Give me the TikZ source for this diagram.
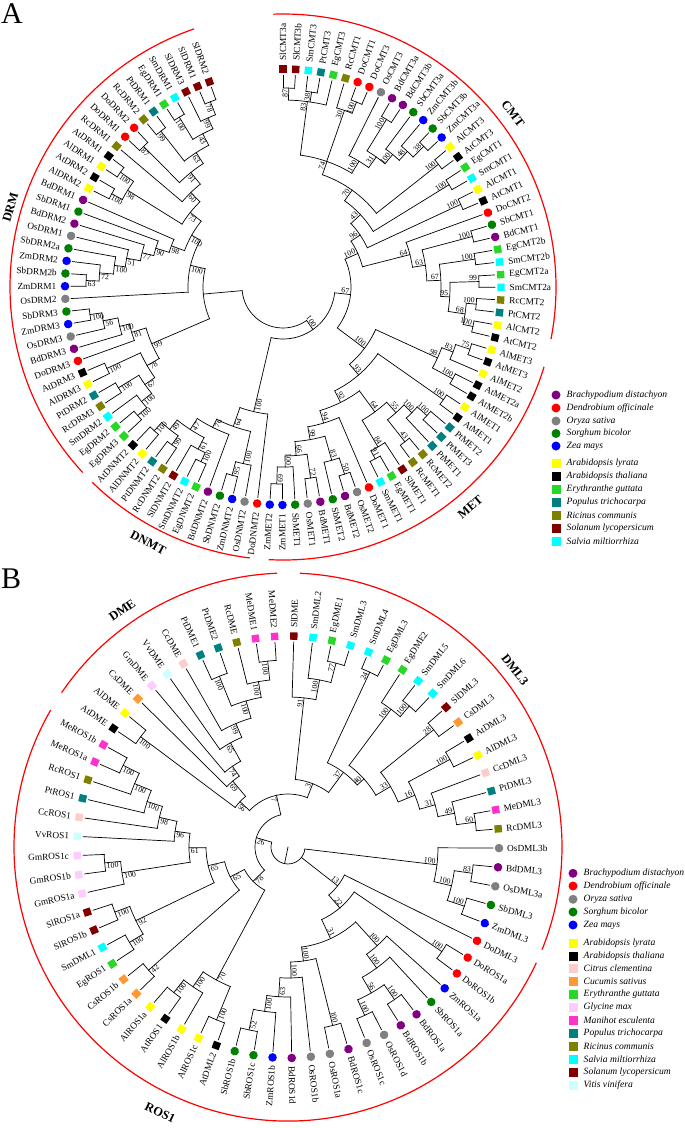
\documentclass[tikz,border=0pt]{standalone}
\usepackage{fontspec}
\setmainfont{Liberation Serif}
\usepackage{tikz}

\definecolor{cBd}{RGB}{128,0,128}
\definecolor{cDo}{RGB}{255,0,0}
\definecolor{cOs}{RGB}{128,128,128}
\definecolor{cSb}{RGB}{0,128,0}
\definecolor{cZm}{RGB}{0,0,255}
\definecolor{cAl}{RGB}{255,255,0}
\definecolor{cAt}{RGB}{0,0,0}
\definecolor{cEg}{RGB}{40,215,40}
\definecolor{cPt}{RGB}{0,128,128}
\definecolor{cRc}{RGB}{128,128,0}
\definecolor{cSl}{RGB}{128,0,0}
\definecolor{cSm}{RGB}{0,255,255}
\definecolor{cCc}{RGB}{255,204,204}
\definecolor{cCs}{RGB}{255,153,51}
\definecolor{cGm}{RGB}{255,204,255}
\definecolor{cMe}{RGB}{255,51,204}
\definecolor{cVv}{RGB}{204,255,255}

\tikzset{
  br/.style={line width=0.7pt, line cap=rect},
  mk/.style={draw=none, inner sep=0pt, outer sep=0pt},
  ci/.style={mk, circle, minimum size=8.6pt},
  sq/.style={mk, rectangle, minimum size=7.4pt},
  spBd/.style={ci, fill=cBd}, spDo/.style={ci, fill=cDo}, spOs/.style={ci, fill=cOs},
  spSb/.style={ci, fill=cSb}, spZm/.style={ci, fill=cZm},
  spAl/.style={sq, fill=cAl}, spAt/.style={sq, fill=cAt}, spEg/.style={sq, fill=cEg},
  spPt/.style={sq, fill=cPt}, spRc/.style={sq, fill=cRc}, spSl/.style={sq, fill=cSl},
  spSm/.style={sq, fill=cSm}, spCc/.style={sq, fill=cCc}, spCs/.style={sq, fill=cCs},
  spGm/.style={sq, fill=cGm}, spMe/.style={sq, fill=cMe}, spVv/.style={sq, fill=cVv},
  leaflab/.style={inner sep=1.5pt, font=\fontsize{9.3}{11}\selectfont},
  bs/.style={inner sep=0.6pt, font=\fontsize{7.8}{8}\selectfont},
  clab/.style={inner sep=0pt, font=\fontsize{12.5}{14}\selectfont\bfseries},
  grp/.style={red, line width=1.2pt},
  legtxt/.style={anchor=west, inner sep=1pt, font=\fontsize{9.6}{11}\selectfont\itshape},
}

% panel: centre x, centre y, first leaf angle, angle step, tip radius, marker radius
\newcommand\setpanel[6]{\def\pcx{#1}\def\pcy{#2}\def\pa{#3}\def\pd{#4}\def\rtip{#5}\def\rmk{#6}}
\newcommand\setlab[1]{\def\rlab{#1}}

% leaf: name, index, species
\newcommand\leaf[3]{%
  \pgfmathsetmacro\tha{\pa-\pd*#2}%
  \expandafter\xdef\csname ang@#1\endcsname{\tha}%
  \coordinate (#1) at ([shift={(\pcx,\pcy)}]\tha:\rtip);
  \node[sp#3, rotate=\tha] (m#1) at ([shift={(\pcx,\pcy)}]\tha:\rmk) {};
  \pgfmathtruncatemacro\lside{cos(\tha)>=0}%
  \ifnum\lside=1 
    \node[leaflab, anchor=west, rotate=\tha] (t#1) at ([shift={(\pcx,\pcy)}]\tha:\rlab) {#1};
  \else
    \node[leaflab, anchor=east, rotate=\tha+180] (t#1) at ([shift={(\pcx,\pcy)}]\tha:\rlab) {#1};
  \fi}

% clade: name, radius, children, bootstrap
\newcommand\clade[4]{%
  \gdef\cfirst{}%
  \foreach \ch in {#3}{%
    \ifx\cfirst\empty\xdef\cfirst{\csname ang@\ch\endcsname}\fi
    \xdef\clast{\csname ang@\ch\endcsname}}%
  \pgfmathsetmacro\thn{(\cfirst+\clast)/2}%
  \pgfmathsetmacro\rbs{#2-1}%
  \expandafter\xdef\csname ang@#1\endcsname{\thn}%
  \coordinate (#1) at ([shift={(\pcx,\pcy)}]\thn:#2);
  \draw[br] ([shift={(\pcx,\pcy)}]\cfirst:#2) arc[start angle=\cfirst, end angle=\clast, radius=#2pt];
  \foreach \ch in {#3}{%
    \edef\thc{\csname ang@\ch\endcsname}%
    \draw[br] ([shift={(\pcx,\pcy)}]\thc:#2) -- (\ch);}%
  \if\relax\detokenize{#4}\relax\else
    \pgfmathtruncatemacro\lside{cos(\thn)>=0}%
    \ifnum\lside=1 
      \node[bs, anchor=south east, rotate=\thn] (b#1) at ([shift={(\pcx,\pcy)}]\thn:\rbs) {#4};
    \else
      \node[bs, anchor=north west, rotate=\thn+180] (b#1) at ([shift={(\pcx,\pcy)}]\thn:\rbs) {#4};
    \fi
  \fi}

% legend entry: panel, x, y, species, text
\newcommand\legitem[5]{%
  \node[sp#4, minimum size=9pt] (lg#1#4) at (#2,-#3) {};
  \node[legtxt] (lt#1#4) at (#2+9.5,-#3) {#5};}

\begin{document}
\begin{tikzpicture}[x=1pt, y=1pt]
\useasboundingbox (0,0) rectangle (685,-1128);

%% ---------------- A ----------------
\node[anchor=base west, inner sep=0pt, font=\fontsize{30}{30}\selectfont] (pA) at (1,-23) {A};
\coordinate (ca) at (283,-287);
\setpanel{283}{-287}{90}{3.336}{212}{218}\setlab{225}

\leaf{SlCMT3a}{0}{Sl}\leaf{SlCMT3b}{1}{Sl}\leaf{SmCMT3}{2}{Sm}\leaf{PtCMT3}{3}{Pt}
\leaf{EgCMT3}{4}{Eg}\leaf{RcCMT1}{5}{Rc}\leaf{DoCMT1}{6}{Do}\leaf{DoCMT3}{7}{Do}
\leaf{OsCMT3}{8}{Os}\leaf{BdCMT3a}{9}{Bd}\leaf{BdCMT3b}{10}{Bd}\leaf{SbCMT3a}{11}{Sb}
\leaf{ZmCMT3b}{12}{Zm}\leaf{SbCMT3b}{13}{Sb}\leaf{ZmCMT3a}{14}{Zm}\leaf{AlCMT3}{15}{Al}
\leaf{AtCMT3}{16}{At}\leaf{EgCMT1}{17}{Eg}\leaf{SmCMT1}{18}{Sm}\leaf{AlCMT1}{19}{Al}
\leaf{AtCMT1}{20}{At}\leaf{DoCMT2}{21}{Do}\leaf{SbCMT1}{22}{Sb}\leaf{BdCMT1}{23}{Bd}
\leaf{EgCMT2b}{24}{Eg}\leaf{SmCMT2b}{25}{Sm}\leaf{EgCMT2a}{26}{Eg}\leaf{SmCMT2a}{27}{Sm}
\leaf{RcCMT2}{28}{Rc}\leaf{PtCMT2}{29}{Pt}\leaf{AlCMT2}{30}{Al}\leaf{AtCMT2}{31}{At}
\leaf{AlMET3}{32}{Al}\leaf{AtMET3}{33}{At}\leaf{AlMET2}{34}{Al}\leaf{AtMET2a}{35}{At}
\leaf{AtMET2b}{36}{At}\leaf{AlMET1}{37}{Al}\leaf{AtMET1}{38}{At}\leaf{PtMET2}{39}{Pt}
\leaf{PtMET3}{40}{Pt}\leaf{PtMET1}{41}{Pt}\leaf{RcMET2}{42}{Rc}\leaf{RcMET1}{43}{Rc}
\leaf{SlMET1}{44}{Sl}\leaf{EgMET1}{45}{Eg}\leaf{SmMET1}{46}{Sm}\leaf{DoMET1}{47}{Do}
\leaf{OsMET2}{48}{Os}\leaf{BdMET2}{49}{Bd}\leaf{SbMET2}{50}{Sb}\leaf{BdMET1}{51}{Bd}
\leaf{OsMET1}{52}{Os}\leaf{SbMET1}{53}{Sb}\leaf{ZmMET1}{54}{Zm}\leaf{ZmMET2}{55}{Zm}
\leaf{DoDNMT2}{56}{Do}\leaf{OsDNMT2}{57}{Os}\leaf{ZmDNMT2}{58}{Zm}\leaf{SbDNMT2}{59}{Sb}
\leaf{BdDNMT2}{60}{Bd}\leaf{EgDNMT2}{61}{Eg}\leaf{SmDNMT2}{62}{Sm}\leaf{SlDNMT2}{63}{Sl}
\leaf{RcDNMT2}{64}{Rc}\leaf{PtDNMT2}{65}{Pt}\leaf{AlDNMT2}{66}{Al}\leaf{AtDNMT2}{67}{At}
\leaf{EgDRM3}{68}{Eg}\leaf{EgDRM2}{69}{Eg}\leaf{SmDRM2}{70}{Sm}\leaf{RcDRM3}{71}{Rc}
\leaf{PtDRM2}{72}{Pt}\leaf{AlDRM3}{73}{Al}\leaf{AtDRM3}{74}{At}\leaf{DoDRM3}{75}{Do}
\leaf{BdDRM3}{76}{Bd}\leaf{OsDRM3}{77}{Os}\leaf{ZmDRM3}{78}{Zm}\leaf{SbDRM3}{79}{Sb}
\leaf{OsDRM2}{80}{Os}\leaf{ZmDRM1}{81}{Zm}\leaf{SbDRM2b}{82}{Sb}\leaf{ZmDRM2}{83}{Zm}
\leaf{SbDRM2a}{84}{Sb}\leaf{OsDRM1}{85}{Os}\leaf{BdDRM2}{86}{Bd}\leaf{SbDRM1}{87}{Sb}
\leaf{BdDRM1}{88}{Bd}\leaf{AlDRM2}{89}{Al}\leaf{AtDRM2}{90}{At}\leaf{AlDRM1}{91}{Al}
\leaf{AtDRM1}{92}{At}\leaf{RcDRM1}{93}{Rc}\leaf{DoDRM1}{94}{Do}\leaf{DoDRM2}{95}{Do}
\leaf{RcDRM2}{96}{Rc}\leaf{PtDRM1}{97}{Pt}\leaf{EgDRM1}{98}{Eg}\leaf{SmDRM1}{99}{Sm}
\leaf{SlDRM3}{100}{Sl}\leaf{SlDRM1}{101}{Sl}\leaf{SlDRM2}{102}{Sl}

% CMT
\clade{a-87}{199}{SlCMT3a,SlCMT3b}{87}
\clade{a-38a}{197}{SmCMT3,PtCMT3}{38}
\clade{a-83}{187}{a-87,a-38a,EgCMT3}{83}
\clade{a-doc}{199}{DoCMT1,DoCMT3}{100}
\clade{a-30}{187}{RcCMT1,a-doc}{30}
\clade{a-bdc}{197}{BdCMT3a,BdCMT3b}{100}
\clade{a-38b}{199}{SbCMT3b,ZmCMT3a}{38}
\clade{a-48}{184}{ZmCMT3b,a-38b}{48}
\clade{a-sbc}{172}{SbCMT3a,a-48}{100}
\clade{a-31}{160}{a-bdc,a-sbc}{31}
\clade{a-osc}{147}{OsCMT3,a-31}{100}
\clade{a-74}{133}{a-83,a-30,a-osc}{74}
\clade{a-atc3}{198}{AlCMT3,AtCMT3}{100}
\clade{a-70}{119}{a-74,a-atc3}{70}
\clade{a-egc1}{195}{EgCMT1,SmCMT1}{100}
\clade{a-43}{106}{a-70,a-egc1}{43}
\clade{a-atc1}{196}{AlCMT1,AtCMT1}{100}
\clade{a-96}{93}{a-43,a-atc1}{96}
\clade{a-sbc1}{196}{SbCMT1,BdCMT1}{100}
\clade{a-egc2b}{194}{EgCMT2b,SmCMT2b}{100}
\clade{a-egc2a}{196}{EgCMT2a,SmCMT2a}{99}
\clade{a-rcc2}{194}{RcCMT2,PtCMT2}{100}
\clade{a-atc2}{194}{AlCMT2,AtCMT2}{100}
\clade{a-68}{184}{a-rcc2,a-atc2}{68}
\clade{a-95}{167}{a-egc2a,a-68}{95}
\clade{a-67b}{158}{a-egc2b,a-95}{67}
\clade{a-63}{144}{a-sbc1,a-67b}{63}
\clade{a-64}{131}{DoCMT2,a-63}{64}
\clade{a-100s}{82}{a-96,a-64}{100}
% MET
\clade{a-75}{197}{AlMET3,AtMET3}{75}
\clade{a-83m}{182}{a-75,AlMET2}{83}
\clade{a-100m2}{193}{AtMET2a,AtMET2b}{100}
\clade{a-98}{170}{a-83m,a-100m2}{98}
\clade{a-100m1}{196}{AlMET1,AtMET1}{100}
\clade{a-100pt}{193}{PtMET2,PtMET3}{100}
\clade{a-100pt2}{180}{a-100pt,PtMET1}{100}
\clade{a-43m}{197}{RcMET2,RcMET1}{43}
\clade{a-55}{169}{a-100pt2,a-43m}{55}
\clade{a-91m}{195}{EgMET1,SmMET1}{91}
\clade{a-84}{186}{SlMET1,a-91m}{84}
\clade{a-64m}{155}{a-55,a-84}{64}
\clade{a-50}{197}{OsMET2,BdMET2}{50}
\clade{a-83b}{180}{a-50,SbMET2}{83}
\clade{a-72}{193}{BdMET1,OsMET1}{72}
\clade{a-69}{197}{ZmMET1,ZmMET2}{69}
\clade{a-100z}{180}{SbMET1,a-69}{100}
\clade{a-66}{169}{a-72,a-100z}{66}
\clade{a-99m}{155}{a-83b,a-66}{99}
\clade{a-94}{142}{DoMET1,a-99m}{94}
\clade{a-92}{129}{a-64m,a-94}{92}
\clade{a-93}{116}{a-100m1,a-92}{93}
\clade{a-100met}{102}{a-98,a-93}{100}
\clade{a-67}{68}{a-100s,a-100met}{67}
% DNMT
\clade{a-100eg}{193}{EgDNMT2,SmDNMT2}{100}
\clade{a-61}{183}{a-100eg,SlDNMT2}{61}
\clade{a-99d}{193}{RcDNMT2,PtDNMT2}{99}
\clade{a-100ad}{193}{AlDNMT2,AtDNMT2}{100}
\clade{a-49}{182}{a-99d,a-100ad}{49}
\clade{a-47}{170}{a-61,a-49}{47}
\clade{a-76}{157}{BdDNMT2,a-47}{76}
\clade{a-95d}{195}{ZmDNMT2,SbDNMT2}{95}
\clade{a-100os}{181}{OsDNMT2,a-95d}{100}
\clade{a-64d}{148}{a-100os,a-76}{64}
\clade{a-dnmt}{128}{DoDNMT2,a-64d}{100}
\clade{a-R}{52}{a-dnmt,a-67}{100}
% DRM
\clade{a-100e}{194}{EgDRM3,EgDRM2}{100}
\clade{a-100sm}{182}{a-100e,SmDRM2}{100}
\clade{a-100rc}{193}{RcDRM3,PtDRM2}{100}
\clade{a-67d}{169}{a-100sm,a-100rc}{67}
\clade{a-100al}{194}{AlDRM3,AtDRM3}{100}
\clade{a-78}{157}{a-67d,a-100al}{78}
\clade{a-100zm}{195}{ZmDRM3,SbDRM3}{100}
\clade{a-56}{183}{OsDRM3,a-100zm}{56}
\clade{a-100bd}{168}{BdDRM3,a-56}{100}
\clade{a-81}{158}{DoDRM3,a-100bd}{81}
\clade{a-99}{143}{a-78,a-81}{99}
\clade{a-63d}{197}{ZmDRM1,SbDRM2b}{63}
\clade{a-72d}{184}{a-63d,ZmDRM2}{72}
\clade{a-100sb}{170}{a-72d,SbDRM2a}{100}
\clade{a-51}{159}{a-100sb,OsDRM1}{51}
\clade{a-77}{145}{a-51,BdDRM2}{77}
\clade{a-90}{133}{a-77,SbDRM1}{90}
\clade{a-98d}{119}{a-90,BdDRM1}{98}
\clade{a-100a2}{195}{AlDRM2,AtDRM2}{100}
\clade{a-100a1}{199}{AlDRM1,AtDRM1}{100}
\clade{a-98a}{183}{a-100a2,a-100a1}{98}
\clade{a-87d}{198}{DoDRM1,DoDRM2}{87}
\clade{a-99r}{198}{RcDRM2,PtDRM1}{99}
\clade{a-100eg1}{199}{EgDRM1,SmDRM1}{100}
\clade{a-78s}{199}{SlDRM1,SlDRM2}{78}
\clade{a-99s}{185}{SlDRM3,a-78s}{99}
\clade{a-43d}{173}{a-100eg1,a-99s}{43}
\clade{a-63s}{160}{a-99r,a-43d}{63}
\clade{a-91}{147}{a-87d,a-63s}{91}
\clade{a-60}{132}{RcDRM1,a-91}{60}
\clade{a-73}{119}{a-98a,a-60}{73}
\clade{a-100u}{105}{a-98d,a-73}{100}
\clade{a-A1}{95}{a-100u,OsDRM2}{100}
\clade{a-L}{80}{a-A1,a-99}{}
\clade{a-root}{41}{a-L,a-R}{}

% groups A
\draw[grp] ([shift={(283,-287)}]92:273) arc[start angle=92, end angle=-11, radius=273pt];
\draw[grp] ([shift={(283,-287)}]-17:273) arc[start angle=-17, end angle=-93, radius=273pt];
\draw[grp] ([shift={(283,-287)}]-97:273) arc[start angle=-97, end angle=-134.3, radius=273pt];
\draw[grp] ([shift={(283,-287)}]-137.2:273) arc[start angle=-137.2, end angle=-251, radius=273pt];
\node[clab, rotate=-53] (gCMT) at ([shift={(283,-287)}]37:288) {CMT};
\node[clab, rotate=40.4] (gMET) at ([shift={(283,-287)}]-49.6:289) {MET};
\node[clab, rotate=-27.8] (gDNMT) at ([shift={(283,-287)}]-117.8:289) {DNMT};
\node[clab, rotate=73.7] (gDRM) at ([shift={(283,-287)}]163.7:284) {DRM};

\legitem{A}{556}{395}{Bd}{Brachypodium distachyon}
\legitem{A}{556}{408}{Do}{Dendrobium officinale}
\legitem{A}{556}{421}{Os}{Oryza sativa}
\legitem{A}{556}{433.5}{Sb}{Sorghum bicolor}
\legitem{A}{556}{446}{Zm}{Zea mays}
\legitem{A}{556}{463.5}{Al}{Arabidopsis lyrata}
\legitem{A}{556}{476.5}{At}{Arabidopsis thaliana}
\legitem{A}{556}{489.5}{Eg}{Erythranthe guttata}
\legitem{A}{556}{502.5}{Pt}{Populus trichocarpa}
\legitem{A}{556}{515.5}{Rc}{Ricinus communis}
\legitem{A}{556}{528.5}{Sl}{Solanum lycopersicum}
\legitem{A}{556}{541.5}{Sm}{Salvia miltiorrhiza}

%% ---------------- B ----------------
\node[anchor=base west, inner sep=0pt, font=\fontsize{30}{30}\selectfont] (pB) at (1,-588) {B};
\coordinate (cb) at (288,-847);
\setpanel{288}{-847}{-0.3}{5.217}{205}{211}\setlab{217.5}

\leaf{OsDML3b}{0}{Os}\leaf{BdDML3}{1}{Bd}\leaf{OsDML3a}{2}{Os}\leaf{SbDML3}{3}{Sb}
\leaf{ZmDML3}{4}{Zm}\leaf{DoDML3}{5}{Do}\leaf{DoROS1a}{6}{Do}\leaf{DoROS1b}{7}{Do}
\leaf{ZmROS1a}{8}{Zm}\leaf{SbROS1a}{9}{Sb}\leaf{BdROS1a}{10}{Bd}\leaf{BdROS1b}{11}{Bd}
\leaf{OsROS1d}{12}{Os}\leaf{OsROS1c}{13}{Os}\leaf{BdROS1c}{14}{Bd}\leaf{OsROS1a}{15}{Os}
\leaf{OsROS1b}{16}{Os}\leaf{BdROS1d}{17}{Bd}\leaf{ZmROS1b}{18}{Zm}\leaf{SbROS1c}{19}{Sb}
\leaf{SbROS1b}{20}{Sb}\leaf{AtDML2}{21}{At}\leaf{AlROS1c}{22}{Al}\leaf{AlROS1b}{23}{Al}
\leaf{AtROS1}{24}{At}\leaf{AlROS1a}{25}{Al}\leaf{CsROS1a}{26}{Cs}\leaf{CsROS1b}{27}{Cs}
\leaf{EgROS1}{28}{Eg}\leaf{SmDML1}{29}{Sm}\leaf{SlROS1b}{30}{Sl}\leaf{SlROS1a}{31}{Sl}
\leaf{GmROS1a}{32}{Gm}\leaf{GmROS1b}{33}{Gm}\leaf{GmROS1c}{34}{Gm}\leaf{VvROS1}{35}{Vv}
\leaf{CcROS1}{36}{Cc}\leaf{PtROS1}{37}{Pt}\leaf{RcROS1}{38}{Rc}\leaf{MeROS1a}{39}{Me}
\leaf{MeROS1b}{40}{Me}\leaf{AtDME}{41}{At}\leaf{AlDME}{42}{Al}\leaf{CsDME}{43}{Cs}
\leaf{GmDME}{44}{Gm}\leaf{VvDME}{45}{Vv}\leaf{CcDME}{46}{Cc}\leaf{PtDME1}{47}{Pt}
\leaf{PtDME2}{48}{Pt}\leaf{RcDME}{49}{Rc}\leaf{MeDME1}{50}{Me}\leaf{MeDME2}{51}{Me}
\leaf{SlDME}{52}{Sl}\leaf{SmDML2}{53}{Sm}\leaf{EgDME1}{54}{Eg}\leaf{SmDML3}{55}{Sm}
\leaf{SmDML4}{56}{Sm}\leaf{EgDML3}{57}{Eg}\leaf{EgDME2}{58}{Eg}\leaf{SmDML5}{59}{Sm}
\leaf{SmDML6}{60}{Sm}\leaf{SlDML3}{61}{Sl}\leaf{CsDML3}{62}{Cs}\leaf{AtDML3}{63}{At}
\leaf{AlDML3}{64}{Al}\leaf{CcDML3}{65}{Cc}\leaf{PtDML3}{66}{Pt}\leaf{MeDML3}{67}{Me}
\leaf{RcDML3}{68}{Rc}

% monocot DML3
\clade{b-83}{186}{BdDML3,OsDML3a}{83}
\clade{b-100sz}{186}{SbDML3,ZmDML3}{100}
\clade{b-100e}{168}{b-83,b-100sz}{100}
\clade{b-100f}{150}{OsDML3b,b-100e}{100}
% monocot ROS1
\clade{b-100do}{186}{DoROS1a,DoROS1b}{100}
\clade{b-100bd}{186}{BdROS1a,BdROS1b}{100}
\clade{b-100os}{185}{OsROS1d,OsROS1c}{100}
\clade{b-56}{168}{b-100bd,b-100os}{56}
\clade{b-100g}{150}{SbROS1a,b-56}{100}
\clade{b-100h}{133}{ZmROS1a,b-100g}{100}
\clade{b-100i}{184}{BdROS1c,OsROS1a}{100}
\clade{b-52}{187}{SbROS1c,SbROS1b}{52}
\clade{b-100j}{166}{ZmROS1b,b-52}{100}
\clade{b-63}{150}{BdROS1d,b-100j}{63}
\clade{b-100k}{131}{OsROS1b,b-63}{100}
\clade{b-100l}{115}{b-100i,b-100k}{100}
\clade{b-31r}{101}{b-100h,b-100l}{31}
\clade{b-22}{80}{b-100do,b-31r}{22}
\clade{b-13}{63}{DoDML3,b-22}{13}
% dicot ROS1
\clade{b-100at2}{187}{AtDML2,AlROS1c}{100}
\clade{b-100at1}{185}{AtROS1,AlROS1a}{100}
\clade{b-100alb}{169}{AlROS1b,b-100at1}{100}
\clade{b-70}{151}{b-100at2,b-100alb}{70}
\clade{b-42}{186}{CsROS1a,CsROS1b}{42}
\clade{b-100eg}{185}{EgROS1,SmDML1}{100}
\clade{b-100sl}{185}{SlROS1b,SlROS1a}{100}
\clade{b-92}{169}{b-100eg,b-100sl}{92}
\clade{b-100gm}{184}{GmROS1b,GmROS1c}{100}
\clade{b-100gma}{168}{GmROS1a,b-100gm}{100}
\clade{b-100me}{184}{MeROS1a,MeROS1b}{100}
\clade{b-100rc}{166}{RcROS1,b-100me}{100}
\clade{b-100pt}{148}{PtROS1,b-100rc}{100}
\clade{b-98}{132}{CcROS1,b-100pt}{98}
\clade{b-96}{114}{VvROS1,b-98}{96}
\clade{b-61}{99}{b-100gma,b-96}{61}
\clade{b-65a}{82}{b-92,b-61}{65}
\clade{b-65b}{65}{b-42,b-65a}{65}
\clade{b-78}{49}{b-70,b-65b}{78}
% DME
\clade{b-100dme}{187}{MeDME1,MeDME2}{100}
\clade{b-100rcd}{168}{RcDME,b-100dme}{100}
\clade{b-100ptd}{184}{PtDME1,PtDME2}{100}
\clade{b-100x}{152}{b-100ptd,b-100rcd}{100}
\clade{b-99}{134}{CcDME,b-100x}{99}
\clade{b-65}{119}{VvDME,b-99}{65}
\clade{b-74}{98}{GmDME,b-65}{74}
\clade{b-69}{86}{CsDME,b-74}{69}
\clade{b-100atd}{184}{AtDME,AlDME}{100}
\clade{b-56d}{66}{b-100atd,b-69}{56}
% DML3
\clade{b-77}{190}{EgDME1,SmDML3}{77}
\clade{b-100a}{170}{SmDML2,b-77}{100}
\clade{b-91}{150}{SlDME,b-100a}{91}
\clade{b-24}{193}{SmDML4,EgDML3}{24}
\clade{b-100b}{186}{SmDML5,SmDML6}{100}
\clade{b-100c}{172}{EgDME2,b-100b}{100}
\clade{b-28}{187}{SlDML3,CsDML3}{28}
\clade{b-100d}{184}{AtDML3,AlDML3}{100}
\clade{b-60}{189}{MeDML3,RcDML3}{60}
\clade{b-49}{170}{PtDML3,b-60}{49}
\clade{b-31}{153}{CcDML3,b-49}{31}
\clade{b-16}{137}{b-100d,b-31}{16}
\clade{b-33}{119}{b-28,b-16}{33}
\clade{b-40}{102}{b-100c,b-33}{40}
\clade{b-37}{93}{b-24,b-40}{37}
\clade{b-3}{68}{b-91,b-37}{3}
\clade{b-7}{53}{b-56d,b-3}{7}
\clade{b-26}{33}{b-78,b-7}{26}
\clade{b-root}{17}{b-26,b-13,b-100f}{}
\draw[br] (cb) -- (b-root);

% groups B
\draw[grp] ([shift={(288,-847)}]87.5:274) arc[start angle=87.5, end angle=-22, radius=274pt];
\draw[grp] ([shift={(288,-847)}]-25:274) arc[start angle=-25, end angle=-210, radius=274pt];
\draw[grp] ([shift={(288,-847)}]-214.3:274) arc[start angle=-214.3, end angle=-267.7, radius=274pt];
\node[clab, rotate=35] (gDME) at ([shift={(288,-847)}]125:289) {DME};
\node[clab, rotate=-52] (gDML) at ([shift={(288,-847)}]38:288) {DML3};
\node[clab, rotate=-25.7] (gROS) at ([shift={(288,-847)}]-115.7:295) {ROS1};

\legitem{B}{573}{873.3}{Bd}{Brachypodium distachyon}
\legitem{B}{573}{886}{Do}{Dendrobium officinale}
\legitem{B}{573}{899.3}{Os}{Oryza sativa}
\legitem{B}{573}{912}{Sb}{Sorghum bicolor}
\legitem{B}{573}{925}{Zm}{Zea mays}
\legitem{B}{573}{943}{Al}{Arabidopsis lyrata}
\legitem{B}{573}{956}{At}{Arabidopsis thaliana}
\legitem{B}{573}{968.7}{Cc}{Citrus clementina}
\legitem{B}{573}{981.7}{Cs}{Cucumis sativus}
\legitem{B}{573}{994.3}{Eg}{Erythranthe guttata}
\legitem{B}{573}{1007.3}{Gm}{Glycine max}
\legitem{B}{573}{1020.3}{Me}{Manihot esculenta}
\legitem{B}{573}{1033.3}{Pt}{Populus trichocarpa}
\legitem{B}{573}{1046.3}{Rc}{Ricinus communis}
\legitem{B}{573}{1059.3}{Sm}{Salvia miltiorrhiza}
\legitem{B}{573}{1072.3}{Sl}{Solanum lycopersicum}
\legitem{B}{573}{1085.3}{Vv}{Vitis vinifera}
\end{tikzpicture}
\end{document}
